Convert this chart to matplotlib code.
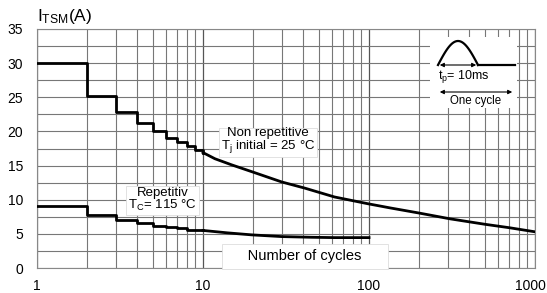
import numpy as np
import matplotlib.pyplot as plt
from matplotlib.ticker import FixedLocator, NullFormatter
from matplotlib.transforms import offset_copy

plt.rcParams["font.family"] = ["Liberation Sans", "DejaVu Sans"]

# 非重复浪涌 (阶梯部分 1..10 周期, 然后平滑曲线)
nr_step_x = [1, 2, 3, 4, 5, 6, 7, 8, 9, 10]
nr_step_y = [30.0, 25.2, 22.8, 21.2, 20.0, 19.1, 18.4, 17.8, 17.3, 16.9]
nr_curve_x = [10, 11.8, 14.9, 19.7, 29.8, 41, 62, 99, 134, 200, 308, 500, 700, 1000]
nr_curve_y = [16.9, 16.0, 15.1, 14.1, 12.6, 11.7, 10.4, 9.4, 8.8, 8.05, 7.2, 6.4, 5.9, 5.3]

# 重复浪涌
r_step_x = [1, 2, 3, 4, 5, 6, 7, 8, 9, 10]
r_step_y = [9.1, 7.7, 7.0, 6.6, 6.2, 6.0, 5.8, 5.6, 5.5, 5.5]
r_curve_x = [10, 14, 19.7, 29.8, 45, 62, 100]
r_curve_y = [5.5, 5.15, 4.85, 4.6, 4.5, 4.45, 4.45]

y_ticks = [0, 5, 10, 15, 20, 25, 30, 35]
x_ticks = [1, 10, 100, 1000]

fig = plt.figure(figsize=(5.47, 2.93), dpi=100)
ax = fig.add_axes([37 / 547, 1 - 268 / 293, 498 / 547, 239 / 293])
ax.set_xscale("log")
ax.set_xlim(1, 1000)
ax.set_ylim(0, 35)

# 网格
minor_x = [m * 10 ** d for d in range(3) for m in range(2, 10)]
for xv in minor_x:
    ax.axvline(xv, color="#777777", lw=0.8, zorder=1)
for xv in x_ticks:
    ax.axvline(xv, color="#555555", lw=0.9, zorder=1)
for yv in np.arange(0, 35.1, 2.5):
    ax.axhline(yv, color="#777777", lw=0.8, zorder=1)

ax.step(nr_step_x, nr_step_y, where="post", color="black", lw=2, zorder=3)
ax.plot(nr_curve_x, nr_curve_y, color="black", lw=2, zorder=3)
ax.step(r_step_x, r_step_y, where="post", color="black", lw=2, zorder=3)
ax.plot(r_curve_x, r_curve_y, color="black", lw=2, zorder=3)

ax.xaxis.set_major_locator(FixedLocator(x_ticks))
ax.xaxis.set_minor_formatter(NullFormatter())
ax.set_xticklabels([str(v) for v in x_ticks])
ax.set_yticks(y_ticks)
ax.tick_params(axis="both", which="both", length=0, labelsize=10, pad=8)
ax.tick_params(axis="y", pad=10)
# 最后一个标签稍微左移, 避免被裁掉
lab = ax.get_xticklabels()[-1]
lab.set_transform(offset_copy(lab.get_transform(), fig=fig, x=-5, y=0, units="dots"))
for s in ax.spines.values():
    s.set_color("#888888")
    s.set_linewidth(0.8)

box = dict(facecolor="white", edgecolor="#dddddd", lw=0.6, pad=1.5)
ax.text(24.6, 18.6, "Non repetitive\n$\\mathregular{T_j}$ initial = 25 °C", ha="center", va="center",
        fontsize=9.5, linespacing=0.9, bbox=box, zorder=4)
ax.text(5.7, 10.0, "Repetitiv\n$\\mathregular{T_C}$= 115 °C", ha="center", va="center",
        fontsize=9.5, linespacing=0.9, bbox=box, zorder=4)
ax.text(41, 1.75, "     Number of cycles     ", ha="center", va="center", fontsize=10.5,
        bbox=dict(facecolor="white", edgecolor="#dddddd", lw=0.6, pad=4), zorder=4)

fig.text(37 / 547, 1 - 17 / 293, "$\\mathregular{I_{TSM}}$(A)", ha="left", va="center", fontsize=12.5)

# 右上角的波形示意
ins = fig.add_axes([430 / 547, 1 - 108 / 293, 87 / 547, 71 / 293])
ins.set_xlim(0, 87)
ins.set_ylim(71, 0)
ins.set_facecolor("white")
ins.set_xticks([])
ins.set_yticks([])
for s in ins.spines.values():
    s.set_visible(False)
t = np.linspace(0, np.pi, 60)
ins.plot(8 + 40 * t / np.pi, 28 - 24 * np.sin(t), color="black", lw=1.6)
ins.plot([48, 85], [28, 28], color="black", lw=1.6)
ins.annotate("", xy=(7, 28), xytext=(49, 28),
             arrowprops=dict(arrowstyle="<|-|>", color="black", lw=0.8, mutation_scale=6))
ins.text(8, 40, "$\\mathregular{t_p}$= 10ms", fontsize=9, ha="left", va="center")
ins.annotate("", xy=(7, 55), xytext=(85, 55),
             arrowprops=dict(arrowstyle="<|-|>", color="black", lw=0.8, mutation_scale=6))
ins.text(46, 64, "One cycle", fontsize=8.3, ha="center", va="center")

fig.savefig("out.png", dpi=100)
